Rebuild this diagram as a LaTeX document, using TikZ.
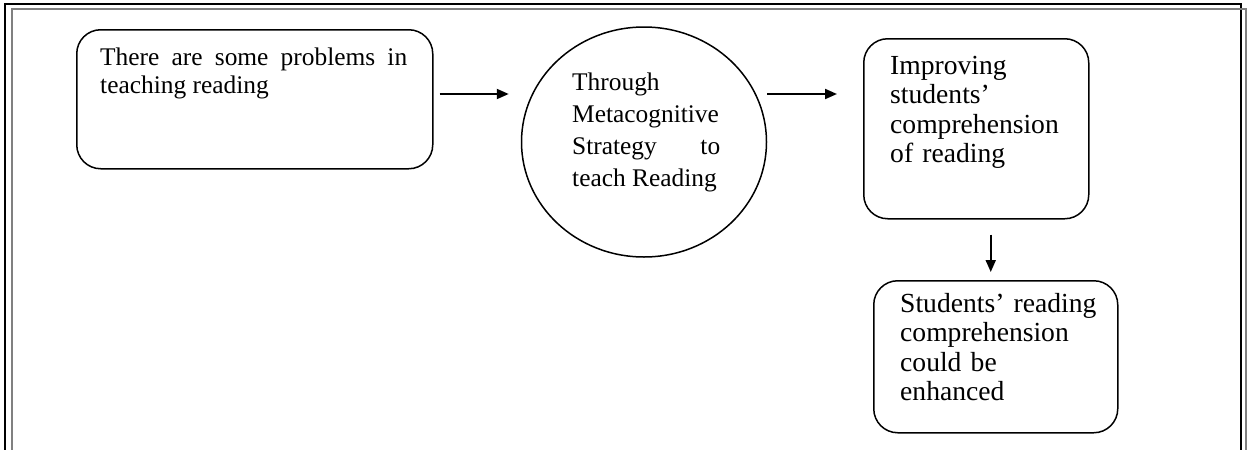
\documentclass[tikz,border=0pt]{standalone}
\usepackage{fontspec}
\setmainfont{Liberation Serif}
\usetikzlibrary{calc,arrows.meta,shapes.geometric}
\hyphenpenalty=10000
\exhyphenpenalty=10000

\begin{document}
\begin{tikzpicture}[x=1pt,y=1pt,yscale=-1,xscale=1,
  card/.style={draw,line width=1.5,rounded corners=24,inner sep=0,anchor=north west},
  blob/.style={draw,ellipse,line width=1.5,inner sep=0},
  txt/.style={inner sep=0,anchor=base west,font=\fontsize{27.6}{29.5}\selectfont},
  arr/.style={line width=2,-{Triangle[length=12,width=10]}}]
\useasboundingbox (0,0) rectangle (1251,450);

%Frame (open at the bottom)
\draw [line width=2]    (5,450) -- (5,3.5) -- (1240.5,3.5) -- (1240.5,450) ;
\draw [color={rgb, 255:red, 128; green, 128; blue, 128 }, line width=2]    (11.5,450) -- (11.5,8.5) -- (1245.5,8.5) -- (1245.5,450) ;

%Shapes
\node [card, minimum width=356, minimum height=139] (box1) at (76,29) {};
\node [blob, minimum width=245, minimum height=230] (circ) at (644,142) {};
\node [card, minimum width=225, minimum height=180] (box3) at (863,38) {};
\node [card, minimum width=244, minimum height=152] (box4) at (873,280) {};

% Text Node
\node [txt, text width=307, align=justify, font=\fontsize{25.4}{28}\selectfont] (t1) at (100,65) {There are some problems in teaching reading};
% Text Node
\node [txt, text width=148, align=justify, font=\fontsize{25.4}{32}\selectfont] (t2) at (572,90) {Through Metacognitive Strategy to teach Reading};
% Text Node
\node [txt, text width=180, align=left] (t3) at (890,74) {Improving students’ comprehension of reading};
% Text Node
\node [txt, text width=199, align=left] (t4) at (900,312) {Students’ reading comprehension could be enhanced};

%Straight Lines
\draw [arr, shorten <=6, shorten >=12] (box1.east |- 0,94) -- (circ.west |- 0,94) ;
\draw [arr, shorten >=26] (circ.east |- 0,94) -- (box3.west |- 0,94) ;
\draw [arr, shorten <=15, shorten >=8] ($(box3.south)+(14.5,0)$) -- ($(box4.north)+(-5,0)$) ;

\end{tikzpicture}
\end{document}
